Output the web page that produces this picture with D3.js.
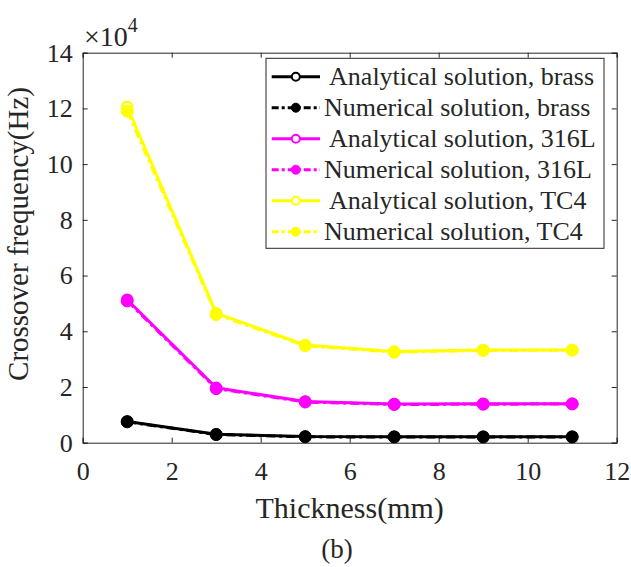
<!DOCTYPE html>
<html>
<head>
<meta charset="utf-8">
<script src="https://cdn.jsdelivr.net/npm/d3@7"></script>
<style>
  body { margin: 0; background: #fff; }
  svg text { font-family: "Liberation Serif", "Times New Roman", serif !important; fill: #262626; }
</style>
</head>
<body>
<svg id="chart" width="631" height="567"></svg>
<script>
// thickness in mm
const thickness = [1, 3, 5, 7, 9, 11];

// crossover frequency, Hz
const brassAnalytical = [7600, 3000, 2200, 2150, 2150, 2150];
const brassNumerical  = [7500, 2900, 2100, 2050, 2050, 2050];
const l316Analytical  = [51300, 19700, 14800, 13900, 14000, 14000];
const l316Numerical   = [50900, 19400, 14600, 13700, 13800, 13900];
const tc4Analytical   = [120600, 46500, 35100, 32700, 33300, 33300];
const tc4Numerical    = [119000, 46000, 34800, 32500, 33100, 33200];

const xTicks = [0, 2, 4, 6, 8, 10, 12];
const yTicks = [0, 2, 4, 6, 8, 10, 12, 14];

const seriesNames = [
  " Analytical solution, brass", "Numerical solution, brass",
  " Analytical solution, 316L", "Numerical solution, 316L",
  " Analytical solution, TC4", "Numerical solution, TC4"
];

const series = [
  {name: seriesNames[0], values: brassAnalytical, color: "#000000", numerical: false},
  {name: seriesNames[1], values: brassNumerical,  color: "#000000", numerical: true},
  {name: seriesNames[2], values: l316Analytical,  color: "#ff00ff", numerical: false},
  {name: seriesNames[3], values: l316Numerical,   color: "#ff00ff", numerical: true},
  {name: seriesNames[4], values: tc4Analytical,   color: "#ffff00", numerical: false},
  {name: seriesNames[5], values: tc4Numerical,    color: "#ffff00", numerical: true}
];

const svg = d3.select("#chart");
const plotLeft = 82.7, plotRight = 616.7, plotTop = 52.7, plotBottom = 442.7;

const x = d3.scaleLinear().domain([0, 12]).range([plotLeft, plotRight]);
const y = d3.scaleLinear().domain([0, 140000]).range([plotBottom, plotTop]);

// axes, ticks pointing inward
const axisColor = "#262626";
function styleAxis(g) {
  g.attr("font-family", null).attr("font-size", null);
  g.select(".domain").attr("stroke", axisColor).attr("stroke-width", 1);
  g.selectAll(".tick line").attr("stroke", axisColor);
  g.selectAll(".tick text").style("font-size", "26px").attr("fill", axisColor);
}

svg.append("g")
  .attr("transform", `translate(0,${plotBottom})`)
  .call(d3.axisBottom(x).tickValues(xTicks).tickSize(-5).tickPadding(19).tickFormat(d3.format("d")))
  .call(styleAxis);
svg.append("g")
  .attr("transform", `translate(0,${plotTop})`)
  .call(d3.axisTop(x).tickValues(xTicks).tickSize(-5).tickFormat(""))
  .call(styleAxis);
svg.append("g")
  .attr("transform", `translate(${plotLeft},0)`)
  .call(d3.axisLeft(y).tickValues(yTicks.map(d => d * 1e4)).tickSize(-5).tickPadding(10).tickFormat(d => d / 1e4))
  .call(styleAxis);
svg.append("g")
  .attr("transform", `translate(${plotRight},0)`)
  .call(d3.axisRight(y).tickValues(yTicks.map(d => d * 1e4)).tickSize(-5).tickFormat(""))
  .call(styleAxis);

// exponent label
const expo = svg.append("text").attr("x", 84).attr("y", 46).style("font-size", "28px");
expo.append("tspan").text("\u00d710");
expo.append("tspan").attr("dy", -14).style("font-size", "20px").text("4");

// lines and markers
const line = d3.line().x((d, i) => x(thickness[i])).y(d => y(d));

series.forEach(s => {
  const g = svg.append("g");
  g.append("path")
    .datum(s.values)
    .attr("d", line)
    .attr("fill", "none")
    .attr("stroke", s.color)
    .attr("stroke-width", 3)
    .attr("stroke-dasharray", s.numerical ? "9,4,3,4" : null);
  g.selectAll("circle")
    .data(s.values)
    .join("circle")
    .attr("cx", (d, i) => x(thickness[i]))
    .attr("cy", d => y(d))
    .attr("r", s.numerical ? 6 : 5)
    .attr("fill", s.numerical ? s.color : "#fff")
    .attr("stroke", s.color)
    .attr("stroke-width", s.numerical ? 1 : 2.5);
});

// legend
const legend = svg.append("g");
legend.append("rect")
  .attr("x", 266).attr("y", 58.3)
  .attr("width", 338).attr("height", 190)
  .attr("fill", "#fff")
  .attr("stroke", axisColor)
  .attr("stroke-width", 1);

series.forEach((s, i) => {
  const cy = 76.7 + i * 31;
  legend.append("line")
    .attr("x1", 271.7).attr("x2", 320)
    .attr("y1", cy).attr("y2", cy)
    .attr("stroke", s.color)
    .attr("stroke-width", 3)
    .attr("stroke-dasharray", s.numerical ? "7,3,3,3" : null);
  legend.append("circle")
    .attr("cx", 295.8).attr("cy", cy)
    .attr("r", s.numerical ? 4.5 : 4)
    .attr("fill", s.numerical ? s.color : "#fff")
    .attr("stroke", s.color)
    .attr("stroke-width", s.numerical ? 1 : 2);
  legend.append("text")
    .attr("x", 324).attr("y", cy + 8.5)
    .style("font-size", "26px")
    .style("white-space", "pre")
    .text(s.name);
});

// axis titles
svg.append("text")
  .attr("transform", "rotate(-90)")
  .attr("x", -234).attr("y", 27.5)
  .attr("text-anchor", "middle")
  .style("font-size", "29px")
  .text("Crossover frequency(Hz)");

svg.append("text")
  .attr("x", (plotLeft + plotRight) / 2).attr("y", 518)
  .attr("text-anchor", "middle")
  .style("font-size", "30px")
  .text("Thickness(mm)");

svg.append("text")
  .attr("x", 337).attr("y", 558)
  .attr("text-anchor", "middle")
  .style("font-size", "27px")
  .text("(b)");
</script>
</body>
</html>
